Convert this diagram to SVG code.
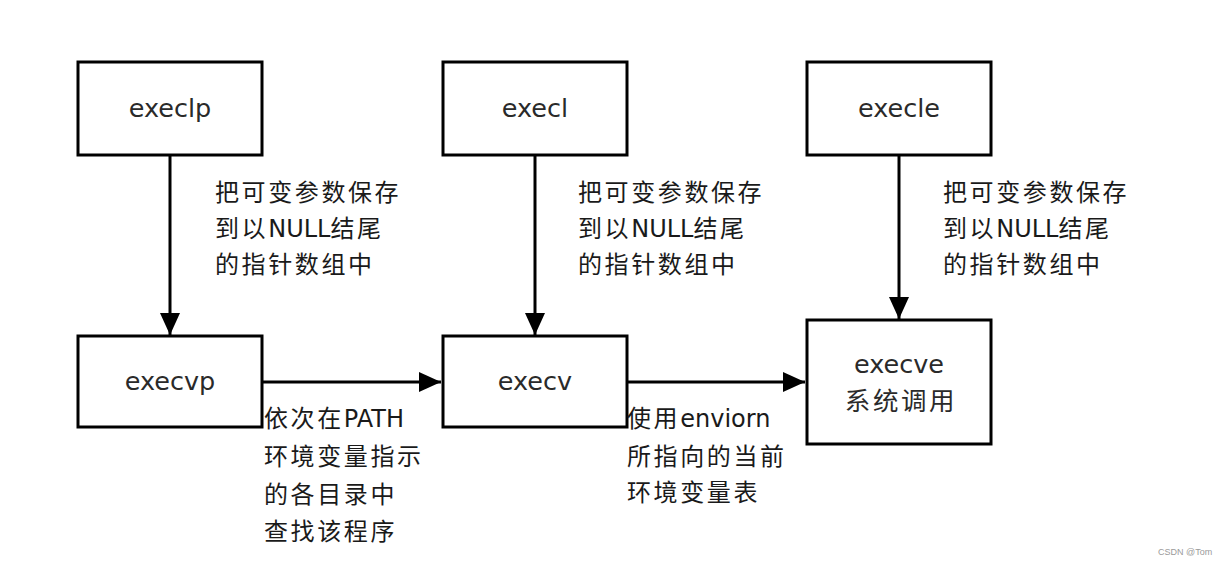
<svg xmlns="http://www.w3.org/2000/svg" width="1224" height="565" viewBox="0 0 1224 565">
  <style>
    .box { fill: #ffffff; stroke: #000000; stroke-width: 3; }
    .edge { stroke: #000000; stroke-width: 3; fill: none; }
    text { font-family: "DejaVu Sans", "Noto Sans CJK SC", sans-serif; fill: #1a1a1a; }
    .lbl { font-size: 25.5px; text-anchor: middle; fill: #2a2a2a; }
    .ann { font-size: 24px; }
    .c { letter-spacing: 2.6px; }
    .wm { font-family: "Liberation Sans", "Noto Sans", sans-serif; font-size: 9px; fill: #9a9a9a; }
  </style>
  <defs>
    <marker id="arrow" markerUnits="userSpaceOnUse" markerWidth="22" markerHeight="20" refX="22" refY="10" orient="auto">
      <path d="M0,0 L22,10 L0,20 Z" fill="#000000"/>
    </marker>
  </defs>
  <rect x="0" y="0" width="1224" height="565" fill="#ffffff"/>

  <g id="connectors">
    <line class="edge" x1="170" y1="156" x2="170" y2="335" marker-end="url(#arrow)"/>
    <line class="edge" x1="535" y1="156" x2="535" y2="335" marker-end="url(#arrow)"/>
    <line class="edge" x1="899" y1="156" x2="899" y2="319" marker-end="url(#arrow)"/>
    <line class="edge" x1="263" y1="382" x2="441" y2="382" marker-end="url(#arrow)"/>
    <line class="edge" x1="628" y1="382" x2="805" y2="382" marker-end="url(#arrow)"/>
  </g>

  <g id="execlp">
    <rect class="box" x="78" y="62" width="184" height="93"/>
    <text class="lbl" x="170" y="117">execlp</text>
  </g>
  <g id="execl">
    <rect class="box" x="443" y="62" width="184" height="93"/>
    <text class="lbl" x="535" y="117">execl</text>
  </g>
  <g id="execle">
    <rect class="box" x="807" y="62" width="184" height="93"/>
    <text class="lbl" x="899" y="117">execle</text>
  </g>
  <g id="execvp">
    <rect class="box" x="78" y="336" width="184" height="91"/>
    <text class="lbl" x="170" y="390">execvp</text>
  </g>
  <g id="execv">
    <rect class="box" x="443" y="336" width="184" height="91"/>
    <text class="lbl" x="535" y="390">execv</text>
  </g>
  <g id="execve">
    <rect class="box" x="807" y="320" width="184" height="124"/>
    <text class="lbl" x="899" y="373">execve</text>
    <text class="lbl c" x="901" y="410">系统调用</text>
  </g>

  <g id="labels">
    <text class="ann" x="215" y="201"><tspan class="c">把可变参数保存</tspan></text>
    <text class="ann" x="215" y="237"><tspan class="c">到以</tspan>NULL<tspan class="c">结尾</tspan></text>
    <text class="ann" x="215" y="273"><tspan class="c">的指针数组中</tspan></text>

    <text class="ann" x="578" y="201"><tspan class="c">把可变参数保存</tspan></text>
    <text class="ann" x="578" y="237"><tspan class="c">到以</tspan>NULL<tspan class="c">结尾</tspan></text>
    <text class="ann" x="578" y="273"><tspan class="c">的指针数组中</tspan></text>

    <text class="ann" x="943" y="201"><tspan class="c">把可变参数保存</tspan></text>
    <text class="ann" x="943" y="237"><tspan class="c">到以</tspan>NULL<tspan class="c">结尾</tspan></text>
    <text class="ann" x="943" y="273"><tspan class="c">的指针数组中</tspan></text>

    <text class="ann" x="264" y="427"><tspan class="c">依次在</tspan>PATH</text>
    <text class="ann" x="264" y="465"><tspan class="c">环境变量指示</tspan></text>
    <text class="ann" x="264" y="503"><tspan class="c">的各目录中</tspan></text>
    <text class="ann" x="264" y="540"><tspan class="c">查找该程序</tspan></text>

    <text class="ann" x="627" y="427"><tspan class="c">使用</tspan>enviorn</text>
    <text class="ann" x="627" y="465"><tspan class="c">所指向的当前</tspan></text>
    <text class="ann" x="627" y="501"><tspan class="c">环境变量表</tspan></text>
  </g>

  <text class="wm" x="1158" y="555">CSDN @Tom</text>
</svg>
